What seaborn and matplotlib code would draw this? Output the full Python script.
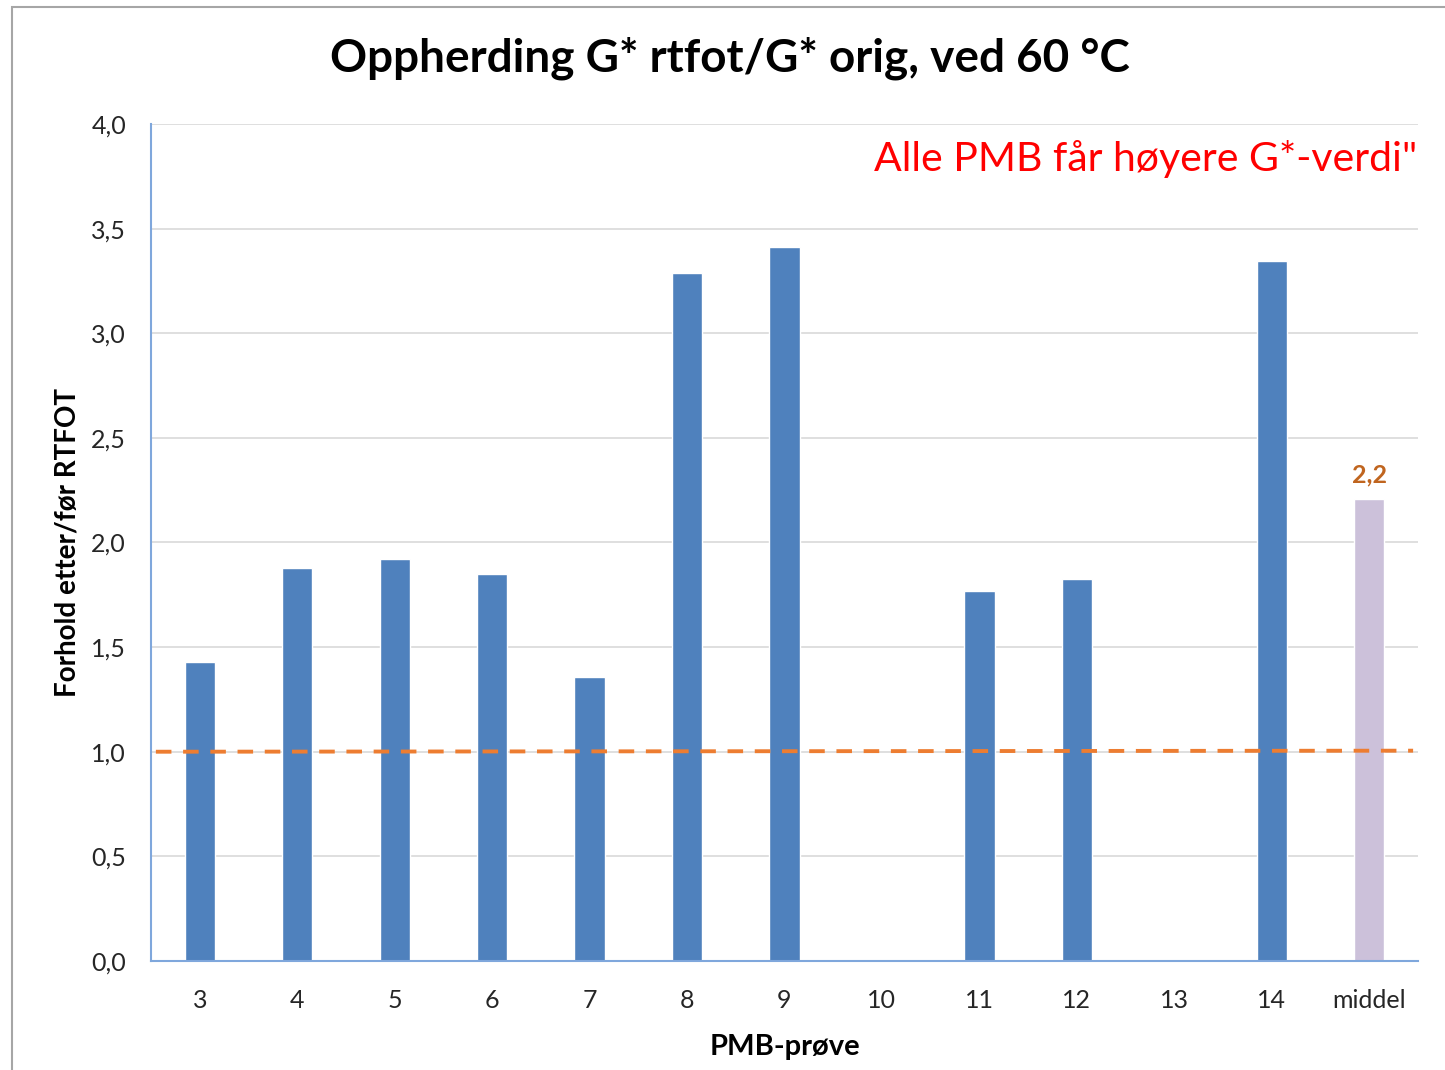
import numpy as np
import pandas as pd
import matplotlib
matplotlib.use("Agg")
import matplotlib.pyplot as plt
import seaborn as sns
from matplotlib.patches import Rectangle

categories = ["3", "4", "5", "6", "7", "8", "9", "10", "11", "12", "13", "14", "middel"]
values = [1.43, 1.88, 1.92, 1.85, 1.355, 3.29, 3.41, np.nan, 1.77, 1.825, np.nan, 3.345, 2.21]
bar_colors = ["#4f81bd"] * 12 + ["#ccc1da"]
threshold = 1.0
yticks = [0.0, 0.5, 1.0, 1.5, 2.0, 2.5, 3.0, 3.5, 4.0]
ytick_labels = ["0,0", "0,5", "1,0", "1,5", "2,0", "2,5", "3,0", "3,5", "4,0"]
mean_label = "2,2"
title = "Oppherding G* rtfot/G* orig, ved 60 °C"
note = "Alle PMB får høyere G*-verdi\""
xlabel = "PMB-prøve"
ylabel = "Forhold etter/før RTFOT"

sns.set_theme(style="white")
plt.rcParams['font.family'] = ['Lato', 'DejaVu Sans']

df = pd.DataFrame({"cat": categories, "val": values})

fig = plt.figure(figsize=(14.45, 10.7), dpi=100)
ax = fig.add_axes([0.1045, 0.1019, 0.9813 - 0.1045, 0.8841 - 0.1019])

sns.barplot(data=df, x="cat", y="val", hue="cat", order=categories, hue_order=categories,
            palette=bar_colors, width=0.31, legend=False, ax=ax,
            edgecolor="white", linewidth=1, saturation=1)

ax.set_ylim(0, 4.0)
ax.set_xlim(-0.5, len(categories) - 0.5)
ax.set_yticks(yticks)
ax.set_yticklabels(ytick_labels)
ax.yaxis.grid(True, color="#d9d9d9", linewidth=1.2)
ax.set_axisbelow(True)
ax.tick_params(axis="both", length=0, labelsize=18, colors="#262626")
ax.tick_params(axis="y", pad=18)
ax.tick_params(axis="x", pad=20)

for s in ["top", "right"]:
    ax.spines[s].set_visible(False)
for s in ["left", "bottom"]:
    ax.spines[s].set_color("#7fa7dc")
    ax.spines[s].set_linewidth(1.5)

ax.plot([-0.45, len(categories) - 0.55], [threshold, threshold + 0.005], color="#ed7d31",
        linestyle=(0, (4, 3)), linewidth=2.8, zorder=3)

ax.text(len(categories) - 1, values[-1] + 0.06, mean_label, ha="center", va="bottom",
        fontsize=18, color="#c0651f", fontweight="bold")

ax.set_xlabel(xlabel, fontsize=21, fontweight="bold", color="#000000", labelpad=16)
ax.set_ylabel(ylabel, fontsize=20, fontweight="bold", color="#000000", labelpad=8)

fig.text(0.505, 0.946, title, ha="center", va="center", fontsize=33, fontweight="bold", color="#000000")
fig.text(0.981, 0.851, note, ha="right", va="center", fontsize=29.5, color="#ff0000")

fig.patches.append(Rectangle((12 / 1445, -0.05), 1.1, (1070 - 7) / 1070 + 0.05,
                             transform=fig.transFigure, fill=False,
                             edgecolor="#a6a6a6", linewidth=1.5))

fig.savefig("out.png", dpi=100)
